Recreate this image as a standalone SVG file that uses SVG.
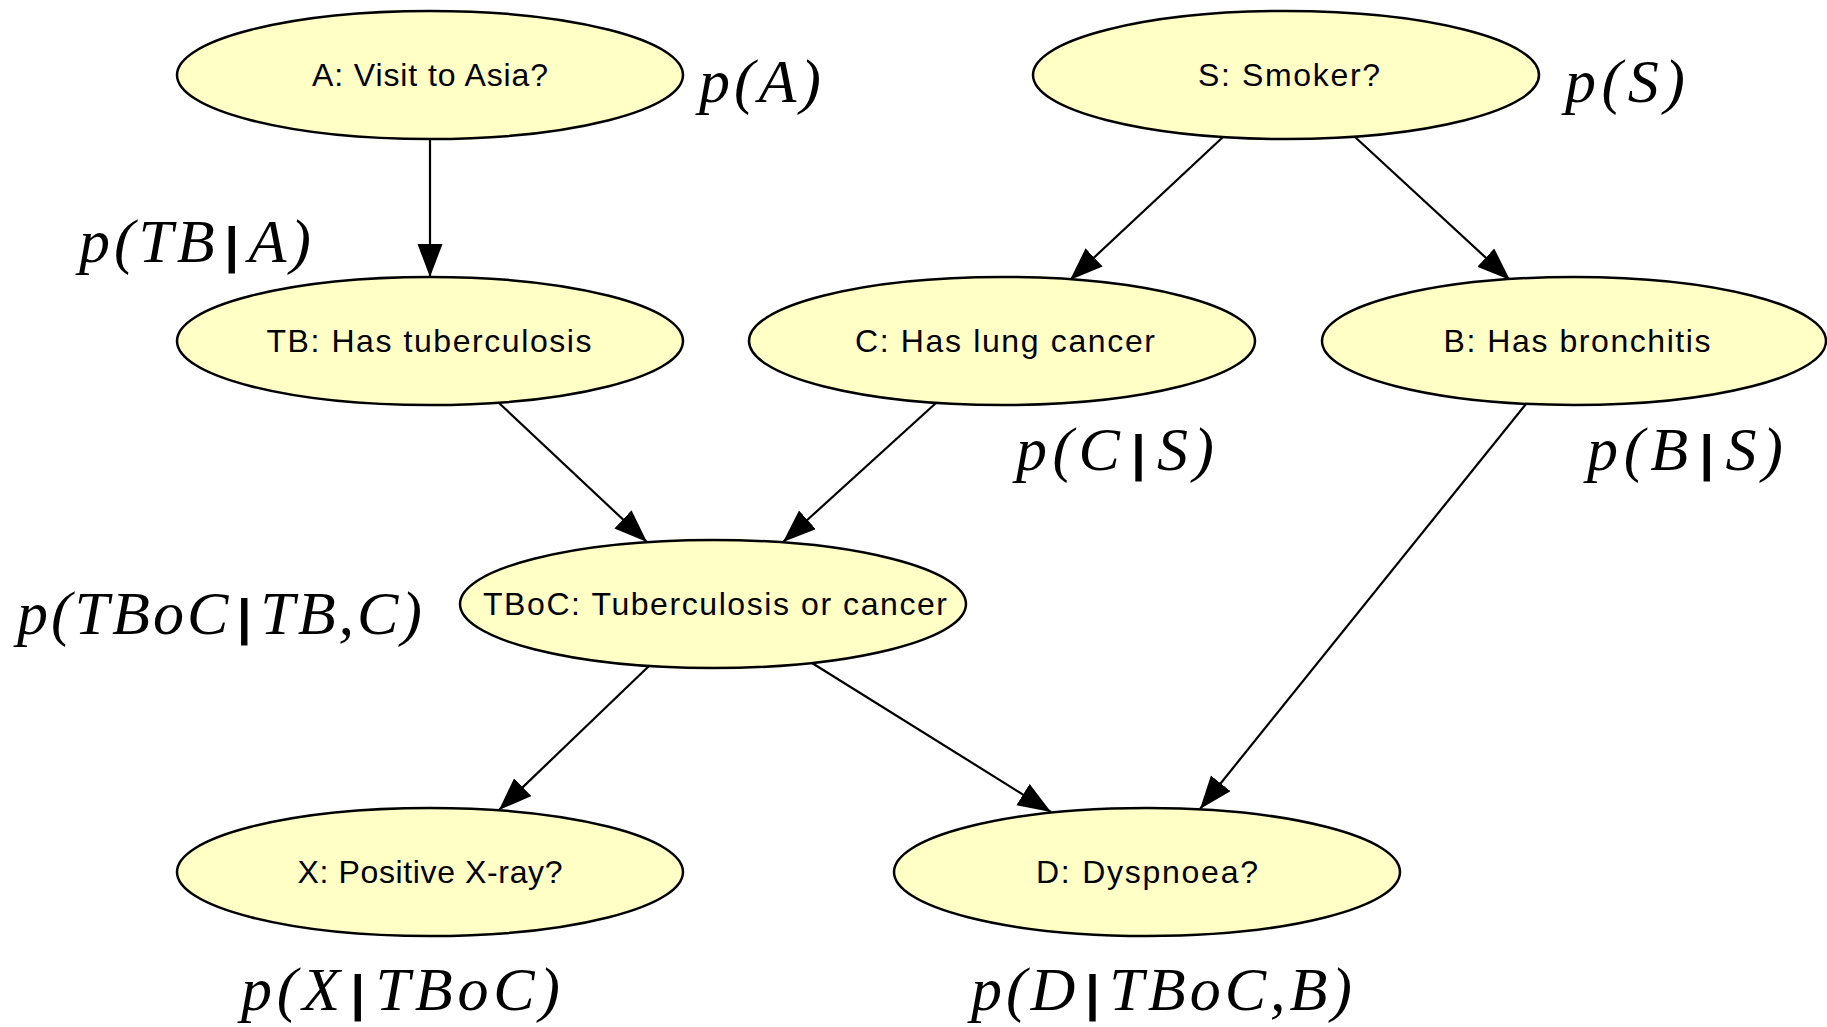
<svg xmlns="http://www.w3.org/2000/svg" width="1827" height="1027" viewBox="0 0 1827 1027">
<style>
.node ellipse{fill:#ffffc6;stroke:#000;stroke-width:2.5}
.node text{font-family:"Liberation Sans",Arial,sans-serif;font-size:32px;fill:#000;text-anchor:middle}
.edge line{stroke:#000;stroke-width:2.2;marker-end:url(#arr)}
.math{font-family:"Liberation Serif","Times New Roman",serif;font-style:italic;font-size:62px;fill:#000}
.bar{font-family:"Liberation Sans",Arial,sans-serif;font-style:normal;font-weight:bold;font-size:50px}
</style>
<defs>
<marker id="arr" markerUnits="userSpaceOnUse" markerWidth="34" markerHeight="26" refX="33" refY="12.5" orient="auto">
<path d="M0,0 L33,12.5 L0,25 z" fill="#000"/>
</marker>
</defs>
<rect width="1827" height="1027" fill="#fff"/>
<g id="connectors" class="edge">
<line x1="430" y1="139" x2="430" y2="277"/>
<line x1="1223" y1="137" x2="1070" y2="280"/>
<line x1="1355" y1="137" x2="1510" y2="280"/>
<line x1="499" y1="403" x2="647" y2="542"/>
<line x1="936" y1="403" x2="783" y2="542"/>
<line x1="1526" y1="404" x2="1200" y2="809"/>
<line x1="649" y1="666" x2="499" y2="810"/>
<line x1="812" y1="663" x2="1051" y2="812"/>
</g>
<g id="node-A" class="node"><ellipse cx="430" cy="75" rx="253" ry="64"/><text x="430" y="86" textLength="236" lengthAdjust="spacing">A: Visit to Asia?</text></g>
<g id="node-S" class="node"><ellipse cx="1286" cy="75" rx="253" ry="64"/><text x="1289" y="86" textLength="182" lengthAdjust="spacing">S: Smoker?</text></g>
<g id="node-TB" class="node"><ellipse cx="430" cy="341" rx="253" ry="64"/><text x="429" y="352" textLength="325" lengthAdjust="spacing">TB: Has tuberculosis</text></g>
<g id="node-C" class="node"><ellipse cx="1002" cy="341" rx="253" ry="64"/><text x="1005" y="352" textLength="300" lengthAdjust="spacing">C: Has lung cancer</text></g>
<g id="node-B" class="node"><ellipse cx="1574" cy="341" rx="252" ry="64"/><text x="1577" y="352" textLength="267" lengthAdjust="spacing">B: Has bronchitis</text></g>
<g id="node-TBoC" class="node"><ellipse cx="713" cy="604" rx="253" ry="64"/><text x="715" y="615" textLength="464" lengthAdjust="spacing">TBoC: Tuberculosis or cancer</text></g>
<g id="node-X" class="node"><ellipse cx="430" cy="872" rx="253" ry="64"/><text x="430" y="883" textLength="265" lengthAdjust="spacing">X: Positive X-ray?</text></g>
<g id="node-D" class="node"><ellipse cx="1147" cy="872" rx="253" ry="64"/><text x="1147" y="883" textLength="222" lengthAdjust="spacing">D: Dyspnoea?</text></g>
<g id="labels">
<text class="math" x="699" y="102" textLength="122" lengthAdjust="spacing">p(A)</text>
<text class="math" x="1565" y="102" textLength="120" lengthAdjust="spacing">p(S)</text>
<text class="math" x="79" y="262" textLength="232" lengthAdjust="spacing">p(TB<tspan class="bar" dx="6">|</tspan><tspan dx="6">A)</tspan></text>
<text class="math" x="1016" y="470" textLength="198" lengthAdjust="spacing">p(C<tspan class="bar" dx="6">|</tspan><tspan dx="6">S)</tspan></text>
<text class="math" x="1587" y="470" textLength="196" lengthAdjust="spacing">p(B<tspan class="bar" dx="6">|</tspan><tspan dx="6">S)</tspan></text>
<text class="math" x="17" y="634" textLength="405" lengthAdjust="spacing">p(TBoC<tspan class="bar" dx="6">|</tspan><tspan dx="6">TB,C)</tspan></text>
<text class="math" x="241" y="1010" textLength="319" lengthAdjust="spacing">p(X<tspan class="bar" dx="6">|</tspan><tspan dx="6">TBoC)</tspan></text>
<text class="math" x="971" y="1010" textLength="381" lengthAdjust="spacing">p(D<tspan class="bar" dx="6">|</tspan><tspan dx="6">TBoC,B)</tspan></text>
</g>
</svg>
